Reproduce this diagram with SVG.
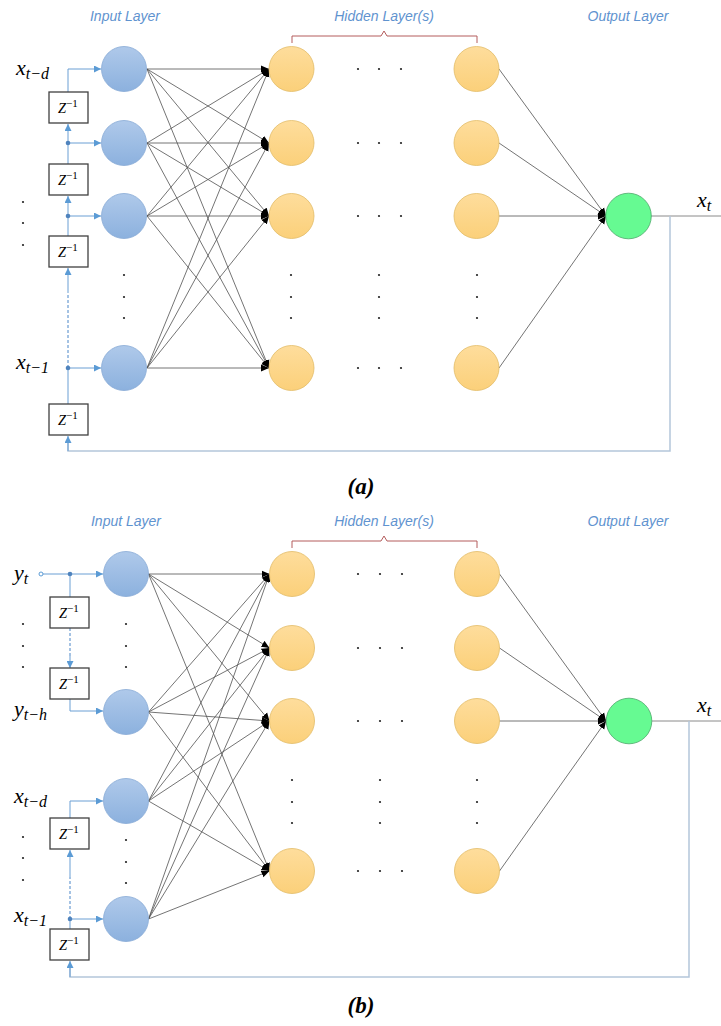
<svg xmlns="http://www.w3.org/2000/svg" width="721" height="1026" viewBox="0 0 721 1026">
<style>
.lbl{font-family:"Liberation Sans",Arial,sans-serif;font-style:italic;font-size:14px;fill:#5f93cf}
.math{font-family:"Liberation Serif","Times New Roman",serif;font-style:italic;fill:#000}
.zbox{fill:#fff;stroke:#404040;stroke-width:1.3}
.ztxt{font-family:"Liberation Serif","Times New Roman",serif;font-style:italic;font-size:14.5px}
.inp{fill:url(#gIn);stroke:#86a9d6;stroke-width:0.8}
.hid{fill:url(#gHid);stroke:#e2bb66;stroke-width:0.8}
.out{fill:#66fa92;stroke:#4aa868;stroke-width:0.8}
.conn line{stroke:#505050;stroke-width:0.8;marker-end:url(#ah)}
.flow{fill:none;stroke:#6a9fd4;stroke-width:1}
.flowA{fill:none;stroke:#6a9fd4;stroke-width:1;marker-end:url(#bh)}
.dash{fill:none;stroke:#4a86c8;stroke-width:1;stroke-dasharray:3,2}
.fb{fill:none;stroke:#b4c6da;stroke-width:1.5}
.outl{fill:none;stroke:#8a8a8a;stroke-width:1}
.brace{fill:none;stroke:#b45c5c;stroke-width:1}
.dot{fill:#222}
.bdot{fill:#4f83bd}
.cap{font-family:"Liberation Serif","Times New Roman",serif;font-style:italic;font-weight:bold;font-size:23px}
</style>
<defs>
<linearGradient id="gIn" x1="0" y1="0" x2="0" y2="1"><stop offset="0" stop-color="#afc9ea"/><stop offset="1" stop-color="#8cb1de"/></linearGradient>
<linearGradient id="gHid" x1="0" y1="0" x2="0" y2="1"><stop offset="0" stop-color="#fedd9c"/><stop offset="1" stop-color="#fbd07a"/></linearGradient>
<marker id="ah" markerUnits="userSpaceOnUse" markerWidth="9" markerHeight="8" refX="8" refY="4" orient="auto"><path d="M0,0.5 L8,4 L0,7.5 z" fill="#000"/></marker>
<marker id="bh" markerUnits="userSpaceOnUse" markerWidth="8" markerHeight="7" refX="7" refY="3.5" orient="auto"><path d="M0,0 L7,3.5 L0,7 z" fill="#5b9bd5"/></marker>
</defs>
<rect width="721" height="1026" fill="#fff"/>

<!-- ===== (a) ===== -->
<g id="a-labels">
<text class="lbl" x="125" y="21" text-anchor="middle">Input Layer</text>
<text class="lbl" x="384" y="21" text-anchor="middle">Hidden Layer(s)</text>
<text class="lbl" x="628" y="21" text-anchor="middle">Output Layer</text>
<path class="brace" d="M292,43 V36 H381 L384,31 L387,36 H477 V43"/>
</g>

<g id="a-connectors">
<g class="conn">
<line x1="147" y1="69" x2="269" y2="69"/><line x1="147" y1="69" x2="269" y2="143"/><line x1="147" y1="69" x2="269" y2="216"/><line x1="147" y1="69" x2="269" y2="368"/>
<line x1="147" y1="143" x2="269" y2="69"/><line x1="147" y1="143" x2="269" y2="143"/><line x1="147" y1="143" x2="269" y2="216"/><line x1="147" y1="143" x2="269" y2="368"/>
<line x1="147" y1="216" x2="269" y2="69"/><line x1="147" y1="216" x2="269" y2="143"/><line x1="147" y1="216" x2="269" y2="216"/><line x1="147" y1="216" x2="269" y2="368"/>
<line x1="147" y1="368" x2="269" y2="69"/><line x1="147" y1="368" x2="269" y2="143"/><line x1="147" y1="368" x2="269" y2="216"/><line x1="147" y1="368" x2="269" y2="368"/>
<line x1="499" y1="69" x2="606" y2="216"/><line x1="499" y1="143" x2="606" y2="216"/><line x1="499" y1="216" x2="606" y2="216"/><line x1="499" y1="368" x2="606" y2="216"/>
</g>
<path class="outl" d="M651,216 H721"/>
<path class="fb" d="M670,216 V451 H68 V442"/>
<path class="flowA" d="M68,451 V436"/>
<path class="flowA" d="M68,92 V69 H101"/>
<path class="flowA" d="M68,164 V143 H101"/>
<path class="flowA" d="M68,143 V124"/>
<path class="flowA" d="M68,236 V216 H101"/>
<path class="flowA" d="M68,216 V196"/>
<path class="flowA" d="M68,404 V368 H101"/>
<path class="dash" d="M68,368 V293"/>
<path class="flowA" d="M68,293 V268"/>
<circle class="bdot" cx="68" cy="143" r="2.3"/><circle class="bdot" cx="68" cy="216" r="2.3"/><circle class="bdot" cx="68" cy="368" r="2.3"/>
</g>

<g id="a-zboxes">
<rect class="zbox" x="49" y="92" width="39" height="31"/><text class="ztxt" x="58" y="113">Z<tspan dy="-6" font-size="11" font-style="normal">−1</tspan></text>
<rect class="zbox" x="49" y="164" width="39" height="31"/><text class="ztxt" x="58" y="185">Z<tspan dy="-6" font-size="11" font-style="normal">−1</tspan></text>
<rect class="zbox" x="49" y="236" width="39" height="31"/><text class="ztxt" x="58" y="257">Z<tspan dy="-6" font-size="11" font-style="normal">−1</tspan></text>
<rect class="zbox" x="49" y="404" width="39" height="31"/><text class="ztxt" x="58" y="425">Z<tspan dy="-6" font-size="11" font-style="normal">−1</tspan></text>
</g>

<g id="a-input">
<circle id="a-in1" class="inp" cx="124" cy="69" r="22.5"/>
<circle id="a-in2" class="inp" cx="124" cy="143" r="22.5"/>
<circle id="a-in3" class="inp" cx="124" cy="216" r="22.5"/>
<circle id="a-in4" class="inp" cx="124" cy="368" r="22.5"/>
</g>
<g id="a-hidden">
<circle class="hid" cx="291.5" cy="69" r="22.5"/><circle class="hid" cx="291.5" cy="143" r="22.5"/><circle class="hid" cx="291.5" cy="216" r="22.5"/><circle class="hid" cx="291.5" cy="368" r="22.5"/>
<circle class="hid" cx="476.5" cy="69" r="22.5"/><circle class="hid" cx="476.5" cy="143" r="22.5"/><circle class="hid" cx="476.5" cy="216" r="22.5"/><circle class="hid" cx="476.5" cy="368" r="22.5"/>
</g>
<g id="a-output"><circle class="out" cx="628.5" cy="216" r="22.8"/></g>

<g id="a-dots">
<circle class="dot" cx="23" cy="202" r="1.1"/><circle class="dot" cx="23" cy="223" r="1.1"/><circle class="dot" cx="23" cy="245" r="1.1"/>
<circle class="dot" cx="124" cy="275" r="1.1"/><circle class="dot" cx="124" cy="297" r="1.1"/><circle class="dot" cx="124" cy="318" r="1.1"/>
<circle class="dot" cx="291" cy="275" r="1.1"/><circle class="dot" cx="291" cy="297" r="1.1"/><circle class="dot" cx="291" cy="318" r="1.1"/>
<circle class="dot" cx="379" cy="275" r="1.1"/><circle class="dot" cx="379" cy="297" r="1.1"/><circle class="dot" cx="379" cy="318" r="1.1"/>
<circle class="dot" cx="477" cy="275" r="1.1"/><circle class="dot" cx="477" cy="297" r="1.1"/><circle class="dot" cx="477" cy="318" r="1.1"/>
<circle class="dot" cx="358" cy="69" r="1.1"/><circle class="dot" cx="379" cy="69" r="1.1"/><circle class="dot" cx="401" cy="69" r="1.1"/>
<circle class="dot" cx="358" cy="143" r="1.1"/><circle class="dot" cx="379" cy="143" r="1.1"/><circle class="dot" cx="401" cy="143" r="1.1"/>
<circle class="dot" cx="358" cy="216" r="1.1"/><circle class="dot" cx="379" cy="216" r="1.1"/><circle class="dot" cx="401" cy="216" r="1.1"/>
<circle class="dot" cx="358" cy="368" r="1.1"/><circle class="dot" cx="379" cy="368" r="1.1"/><circle class="dot" cx="401" cy="368" r="1.1"/>
</g>

<g id="a-text">
<text class="math" x="16" y="75" font-size="22">x<tspan font-size="16" dy="4">t−d</tspan></text>
<text class="math" x="16" y="369" font-size="22">x<tspan font-size="16" dy="4">t−1</tspan></text>
<text class="math" x="697" y="207" font-size="22">x<tspan font-size="16" dy="4">t</tspan></text>
<text class="cap" x="361" y="494" text-anchor="middle">(a)</text>
</g>

<!-- ===== (b) ===== -->
<g id="b-labels">
<text class="lbl" x="126" y="526" text-anchor="middle">Input Layer</text>
<text class="lbl" x="384" y="526" text-anchor="middle">Hidden Layer(s)</text>
<text class="lbl" x="628" y="526" text-anchor="middle">Output Layer</text>
<path class="brace" d="M292,548 V541 H381 L384,536 L387,541 H477 V548"/>
</g>

<g id="b-connectors">
<g class="conn">
<line x1="148.5" y1="574" x2="269.5" y2="574"/><line x1="148.5" y1="574" x2="269.5" y2="648"/><line x1="148.5" y1="574" x2="269.5" y2="721"/><line x1="148.5" y1="574" x2="269.5" y2="871"/>
<line x1="148.5" y1="712" x2="269.5" y2="574"/><line x1="148.5" y1="712" x2="269.5" y2="648"/><line x1="148.5" y1="712" x2="269.5" y2="721"/><line x1="148.5" y1="712" x2="269.5" y2="871"/>
<line x1="148.5" y1="801" x2="269.5" y2="574"/><line x1="148.5" y1="801" x2="269.5" y2="648"/><line x1="148.5" y1="801" x2="269.5" y2="721"/><line x1="148.5" y1="801" x2="269.5" y2="871"/>
<line x1="148.5" y1="919" x2="269.5" y2="574"/><line x1="148.5" y1="919" x2="269.5" y2="648"/><line x1="148.5" y1="919" x2="269.5" y2="721"/><line x1="148.5" y1="919" x2="269.5" y2="871"/>
<line x1="499.5" y1="574" x2="606" y2="721"/><line x1="499.5" y1="648" x2="606" y2="721"/><line x1="499.5" y1="721" x2="606" y2="721"/><line x1="499.5" y1="871" x2="606" y2="721"/>
</g>
<path class="outl" d="M652,721 H721"/>
<path class="fb" d="M689,721 V977 H70 V968"/>
<path class="flowA" d="M70,977 V961"/>
<path class="flowA" d="M43,574 H103"/>
<circle cx="41" cy="574" r="2" fill="#fff" stroke="#5b9bd5" stroke-width="1"/>
<path class="flow" d="M70,574 V597"/>
<path class="dash" d="M70,628 V656"/>
<path class="flowA" d="M70,656 V668"/>
<path class="flowA" d="M70,699 V711 H103"/>
<path class="flowA" d="M70,818 V801 H103"/>
<path class="dash" d="M70,919 V877"/>
<path class="flowA" d="M70,877 V850"/>
<path class="flowA" d="M70,929 V919 H103"/>
<circle class="bdot" cx="70" cy="574" r="2.3"/><circle class="bdot" cx="70" cy="919" r="2.3"/>
</g>

<g id="b-zboxes">
<rect class="zbox" x="50" y="597" width="39" height="31"/><text class="ztxt" x="59" y="618">Z<tspan dy="-6" font-size="11" font-style="normal">−1</tspan></text>
<rect class="zbox" x="50" y="668" width="39" height="31"/><text class="ztxt" x="59" y="689">Z<tspan dy="-6" font-size="11" font-style="normal">−1</tspan></text>
<rect class="zbox" x="50" y="818" width="39" height="31"/><text class="ztxt" x="59" y="839">Z<tspan dy="-6" font-size="11" font-style="normal">−1</tspan></text>
<rect class="zbox" x="50" y="929" width="39" height="31"/><text class="ztxt" x="59" y="950">Z<tspan dy="-6" font-size="11" font-style="normal">−1</tspan></text>
</g>

<g id="b-input">
<circle class="inp" cx="126" cy="574" r="22.5"/>
<circle class="inp" cx="126" cy="712" r="22.5"/>
<circle class="inp" cx="126" cy="801" r="22.5"/>
<circle class="inp" cx="126" cy="919" r="22.5"/>
</g>
<g id="b-hidden">
<circle class="hid" cx="292" cy="574" r="22.5"/><circle class="hid" cx="292" cy="648" r="22.5"/><circle class="hid" cx="292" cy="721" r="22.5"/><circle class="hid" cx="292" cy="871" r="22.5"/>
<circle class="hid" cx="477" cy="574" r="22.5"/><circle class="hid" cx="477" cy="648" r="22.5"/><circle class="hid" cx="477" cy="721" r="22.5"/><circle class="hid" cx="477" cy="871" r="22.5"/>
</g>
<g id="b-output"><circle class="out" cx="629" cy="721" r="22.8"/></g>

<g id="b-dots">
<circle class="dot" cx="23" cy="624" r="1.1"/><circle class="dot" cx="23" cy="646" r="1.1"/><circle class="dot" cx="23" cy="667" r="1.1"/>
<circle class="dot" cx="126" cy="624" r="1.1"/><circle class="dot" cx="126" cy="646" r="1.1"/><circle class="dot" cx="126" cy="667" r="1.1"/>
<circle class="dot" cx="23" cy="837" r="1.1"/><circle class="dot" cx="23" cy="858" r="1.1"/><circle class="dot" cx="23" cy="880" r="1.1"/>
<circle class="dot" cx="126" cy="840" r="1.1"/><circle class="dot" cx="126" cy="862" r="1.1"/><circle class="dot" cx="126" cy="883" r="1.1"/>
<circle class="dot" cx="292" cy="780" r="1.1"/><circle class="dot" cx="292" cy="802" r="1.1"/><circle class="dot" cx="292" cy="823" r="1.1"/>
<circle class="dot" cx="380" cy="780" r="1.1"/><circle class="dot" cx="380" cy="802" r="1.1"/><circle class="dot" cx="380" cy="823" r="1.1"/>
<circle class="dot" cx="477" cy="780" r="1.1"/><circle class="dot" cx="477" cy="802" r="1.1"/><circle class="dot" cx="477" cy="823" r="1.1"/>
<circle class="dot" cx="358" cy="574" r="1.1"/><circle class="dot" cx="380" cy="574" r="1.1"/><circle class="dot" cx="402" cy="574" r="1.1"/>
<circle class="dot" cx="358" cy="648" r="1.1"/><circle class="dot" cx="380" cy="648" r="1.1"/><circle class="dot" cx="402" cy="648" r="1.1"/>
<circle class="dot" cx="358" cy="721" r="1.1"/><circle class="dot" cx="380" cy="721" r="1.1"/><circle class="dot" cx="402" cy="721" r="1.1"/>
<circle class="dot" cx="358" cy="871" r="1.1"/><circle class="dot" cx="380" cy="871" r="1.1"/><circle class="dot" cx="402" cy="871" r="1.1"/>
</g>

<g id="b-text">
<text class="math" x="14" y="580" font-size="22">y<tspan font-size="16" dy="4">t</tspan></text>
<text class="math" x="14" y="716" font-size="22">y<tspan font-size="16" dy="4">t−h</tspan></text>
<text class="math" x="14" y="803" font-size="22">x<tspan font-size="16" dy="4">t−d</tspan></text>
<text class="math" x="14" y="922" font-size="22">x<tspan font-size="16" dy="4">t−1</tspan></text>
<text class="math" x="697" y="712" font-size="22">x<tspan font-size="16" dy="4">t</tspan></text>
<text class="cap" x="361" y="1013" text-anchor="middle">(b)</text>
</g>
</svg>
